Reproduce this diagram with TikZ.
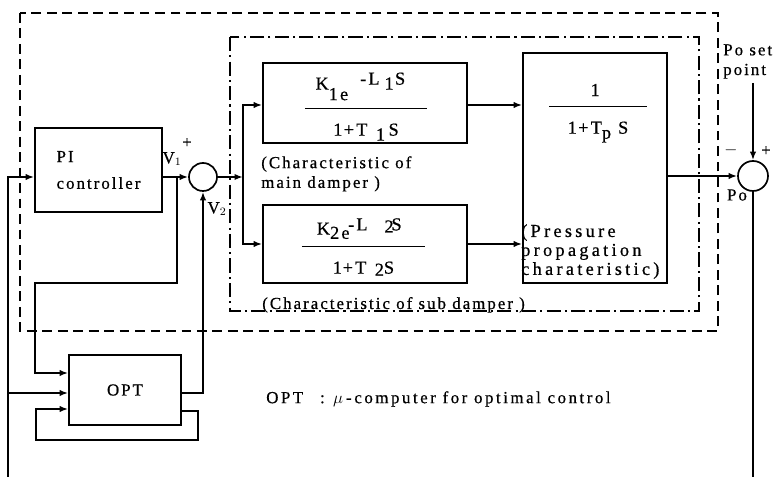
\documentclass[tikz,border=0pt]{standalone}
\usepackage{fontspec}
\setmainfont{Liberation Serif}[LetterSpace=12, FakeBold=0.6]
\usetikzlibrary{arrows.meta,positioning}

\newcommand{\ffrac}[3]{{\renewcommand{\arraystretch}{1.17}%
  \begin{tabular}{@{}c@{}}\smash{#2}\\\rule[2.6pt]{#1}{0.9pt}\\#3\end{tabular}}}

\begin{document}
\begin{tikzpicture}[
    x=0.025cm, y=-0.025cm,
    font=\fontsize{12}{14}\selectfont,
    blk/.style={rectangle, draw=black, line width=1.2pt, inner sep=0pt},
    sumc/.style={circle, draw=black, line width=1.2pt, minimum size=0.7cm, inner sep=0pt},
    arr/.style={-{Latex[length=6pt,width=4.5pt]}, line width=1.2pt},
    ln/.style={line width=1.2pt},
    lbl/.style={inner sep=0pt},
    tf/.style={inner sep=0pt, font=\fontsize{13}{14}\selectfont},
    ctrlframe/.style={dash pattern=on 7pt off 4pt, line width=1.2pt},
    plantframe/.style={dash pattern=on 10pt off 3pt on 1.5pt off 3pt, line width=1.2pt},
  ]
  \useasboundingbox (0,0) rectangle (778,477);
  % frames
  \draw[ctrlframe] (20,13) rectangle (718,331);
  \draw[plantframe] (230,37) rectangle (699,311);
  % blocks
  \node[blk, align=left, minimum width=3.175cm, minimum height=2.1cm] (pi) at (98.5,170) {PI\\[5pt]controller};
  \node[sumc] (s1) at (203,177) {};
  \node[blk, minimum width=5.1cm, minimum height=2cm] (b1) at (365,103) {};
  \node[blk, minimum width=5.1cm, minimum height=1.95cm] (b2) at (365,244) {};
  \node[blk, minimum width=3.6cm, minimum height=5.75cm] (b3) at (595,168) {};
  \node[sumc, minimum size=0.75cm] (s2) at (753,176) {};
  \node[blk, minimum width=2.8cm, minimum height=1.75cm] (opt) at (125,390) {OPT};
  % transfer functions
  \node[tf] (f1) at (366,108) {\ffrac{3.05cm}
    {K\raisebox{-7.5pt}{1e}\hspace{8.5pt}\raisebox{3.5pt}{-L}\hspace{3.5pt}1\hspace{1pt}\raisebox{3.5pt}{S}\hspace{8pt}}
    {1\hspace{1pt}+T\hspace{6pt}\raisebox{-3.5pt}{1}\hspace{2.5pt}S\hspace{8pt}}};
  \node[tf] (f2) at (363.5,246) {\ffrac{3.08cm}
    {\raisebox{-5pt}{K\raisebox{-3pt}{2e}\hspace{-1pt}\raisebox{3pt}{-L}\hspace{12pt}\raisebox{1.5pt}{2}\hspace{-1.5pt}\raisebox{3pt}{S}}\hspace{6pt}}
    {1\hspace{0.5pt}+T\hspace{6pt}\raisebox{-1.5pt}{2}S\hspace{6pt}}};
  \node[tf] (tp) at (598,107) {\ffrac{2.43cm}
    {\raisebox{-6pt}{1}\hspace{4pt}}
    {1\hspace{1pt}+T\raisebox{-3.5pt}{p}\hspace{5pt}S}};
  % free ends
  \coordinate (fbl) at (8,477);
  \coordinate (fbr) at (753,477);
  \coordinate (spt) at (753,83);
  \coordinate (pio) at (177,177);
  \coordinate (brk) at (243,177);
  % connectors
  \draw[arr] (fbl) |- (pi.west |- s1);
  \draw[arr] (pi.east |- s1) -- (s1.west);
  \draw[arr] (pio) -- (177,283) -| (35,373) -- (opt.west |- 0,373);
  \draw[arr] (fbl |- 0,393) -- (opt.west |- 0,393);
  \draw[arr] (opt.east |- 0,411) -| (198,440) -| (36,409) -- (opt.west |- 0,409);
  \draw[arr] (opt.east |- 0,393) -| (s1.south);
  \draw[arr] (s1.east) -- (brk);
  \draw[arr] (brk) |- (b1.west |- 0,105);
  \draw[arr] (brk) |- (b2.west);
  \draw[arr] (b1.east |- 0,105) -- (b3.west |- 0,105);
  \draw[arr] (b2.east) -- (b3.west |- b2.east);
  \draw[arr] (b3.east |- s2) -- (s2.west);
  \draw[arr] (spt) -- (s2.north);
  \draw[ln] (s2.south) -- (fbr);
  % labels
  \node[lbl] (v1p) at (187,143) {+};
  \node[lbl] (v1) at (172,159) {V$_1$};
  \node[lbl] (v2) at (217,209) {V$_2$};
  \node[lbl] (s2m) at (731,150) {$-$};
  \node[lbl] (s2p) at (766,151) {+};
  \node[lbl] (po) at (737,195) {Po};
  \node[lbl, anchor=north west, align=left] (set) at (723,44) {Po set\\point};
  \node[lbl, anchor=north west, align=left] (c1) at (261,156) {(Characteristic of\\main damper )};
  \node[lbl, anchor=base west] (c2) at (262,309) {(Characteristic of sub damper )};
  \node[lbl, anchor=north west, align=left, font=\fontsize{13}{13.5}\selectfont\addfontfeatures{LetterSpace=18}] (pp) at (521,224) {(Pressure\\propagation\\charateristic)};
  \node[lbl, anchor=west, font=\fontsize{12}{14}\selectfont\addfontfeatures{LetterSpace=15}] (note) at (266,399) {OPT\quad:\enspace$\mu$\,-\,computer for optimal control};
\end{tikzpicture}
\end{document}
